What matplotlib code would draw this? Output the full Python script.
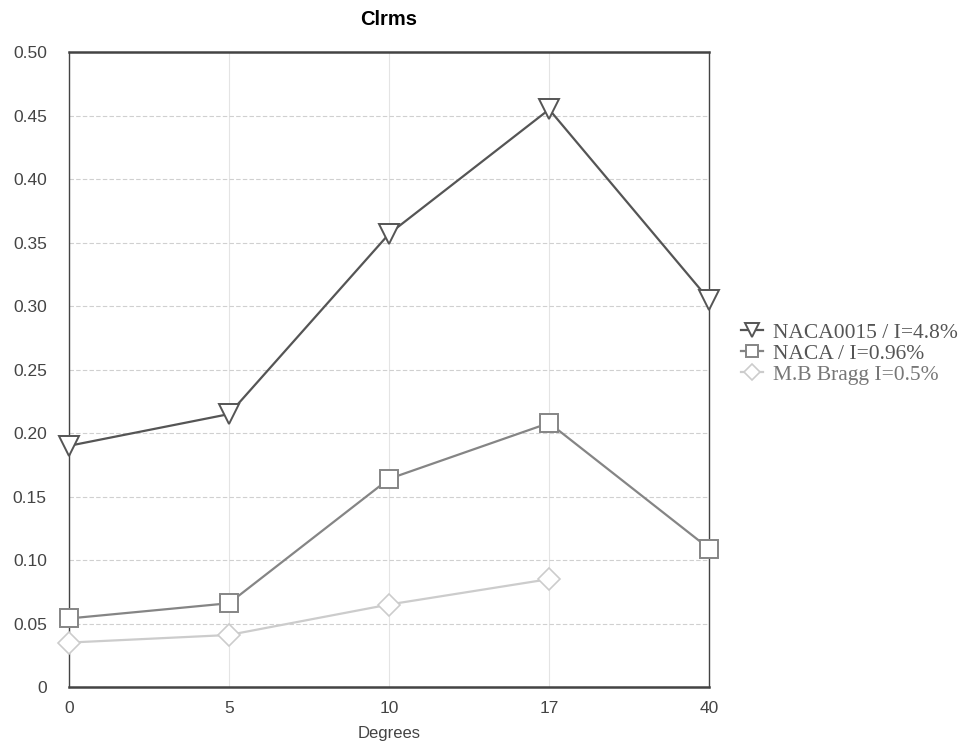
import matplotlib
matplotlib.use("Agg")
from matplotlib import pyplot as plt

# 数据
degrees = ["0", "5", "10", "17", "40"]
naca0015 = [0.190, 0.215, 0.357, 0.455, 0.305]
naca = [0.054, 0.066, 0.164, 0.208, 0.109]
bragg = [0.035, 0.041, 0.065, 0.085]

plt.rcParams['font.family'] = ['Liberation Sans', 'DejaVu Sans']

fig = plt.figure(figsize=(9.73, 7.47), dpi=100)
ax = fig.add_axes([0.0709, 0.0803, 0.658, 0.8497])

x = list(range(len(degrees)))
ax.plot(x, naca0015, color='#555555', lw=1.6, marker='v', ms=15,
        mfc='white', mec='#555555', mew=1.4, label='NACA0015 / I=4.8%',
        zorder=5, clip_on=False)
ax.plot(x, naca, color='#858585', lw=1.6, marker='s', ms=12.5,
        mfc='white', mec='#858585', mew=1.4, label='NACA / I=0.96%',
        zorder=5, clip_on=False)
ax.plot(x[:len(bragg)], bragg, color='#cccccc', lw=1.6, marker='D', ms=11.5,
        mfc='white', mec='#cccccc', mew=1.2, label='M.B Bragg I=0.5%',
        zorder=5, clip_on=False)

ax.set_xlim(0, len(degrees) - 1)
ax.set_ylim(0, 0.5)
ax.set_xticks(x)
ax.set_xticklabels(degrees)
yt = [0, 0.05, 0.10, 0.15, 0.20, 0.25, 0.30, 0.35, 0.40, 0.45, 0.50]
ax.set_yticks(yt)
ax.set_yticklabels(['0'] + ['%.2f' % v for v in yt[1:]])
ax.tick_params(length=0, labelsize=12.5, colors='#444444')
ax.tick_params(axis='y', pad=16)
ax.tick_params(axis='x', pad=10)

ax.grid(axis='y', color='#d0d0d0', lw=0.8, ls=(0, (4, 2)))
ax.grid(axis='x', color='#e4e4e4', lw=0.8)
for s in ax.spines.values():
    s.set_color('#444444')
    s.set_linewidth(1.0)
    s.set_zorder(2)
ax.spines['bottom'].set_linewidth(1.8)
ax.spines['top'].set_linewidth(1.8)

ax.set_title('Clrms', fontsize=14.5, fontweight='bold', pad=20)
ax.set_xlabel('Degrees', fontsize=12, color='#444444', labelpad=7)

leg = ax.legend(loc='center left', bbox_to_anchor=(1.02, 0.525), frameon=False,
                prop={'family': 'Liberation Serif', 'size': 15.5},
                handlelength=1.0, handletextpad=0.45, labelspacing=0.05,
                markerscale=0.7)
for t, c in zip(leg.get_texts(), ['#555555', '#555555', '#777777']):
    t.set_color(c)

plt.savefig('out.png', dpi=100)
